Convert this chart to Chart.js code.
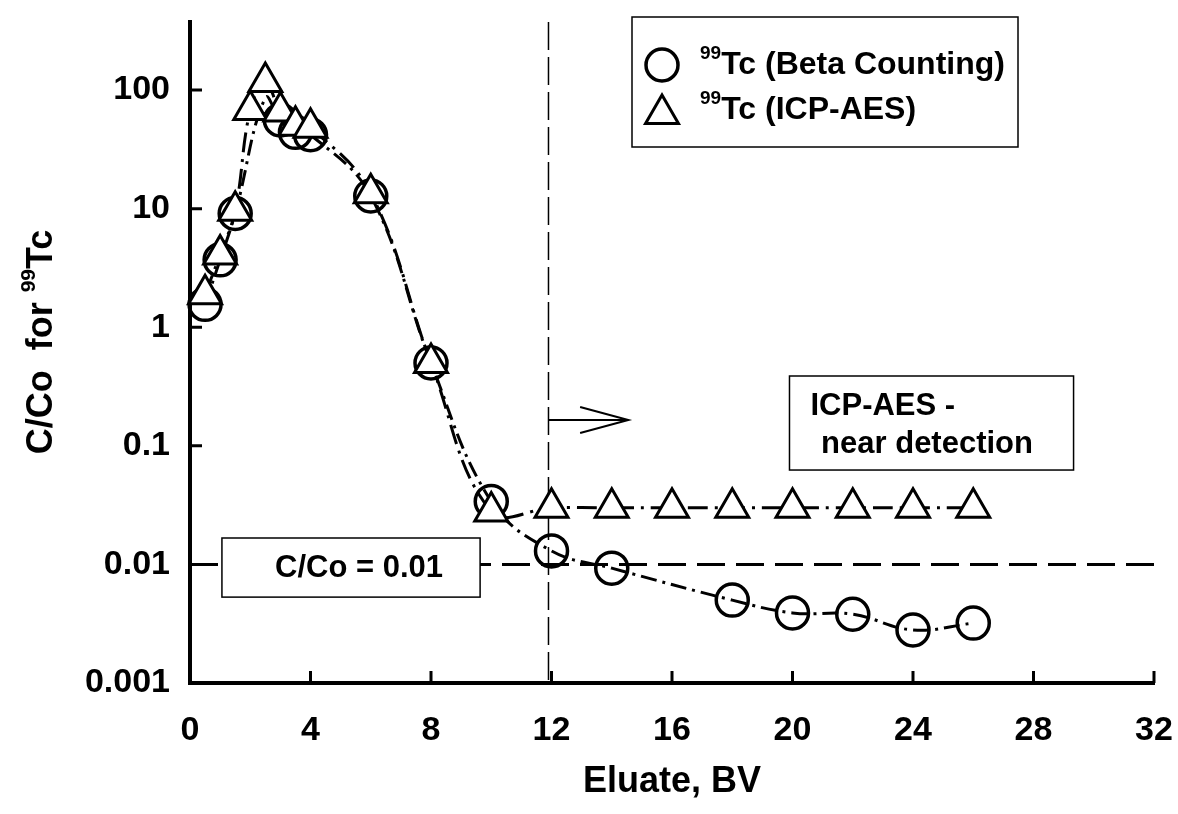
<!DOCTYPE html>
<html>
<head>
<meta charset="utf-8">
<script src="https://cdn.jsdelivr.net/npm/chart.js@4/dist/chart.umd.min.js"></script>
<style>
  body { margin: 0; background: #fff; }
  canvas { display: block; }
</style>
</head>
<body>
<canvas id="myChart" width="1178" height="814"></canvas>
<script>
// eluate volume (BV) and C/Co
let betaX = [0.5, 1, 1.5, 2.5, 3, 3.5, 4, 6, 8, 10, 12, 14, 18, 20, 22, 24, 26];
let betaY = [1.56, 3.7, 9.1, 86, 56, 44, 42, 12.8, 0.50, 0.034, 0.013, 0.0093, 0.0050, 0.0039, 0.0038, 0.0028, 0.0032];

let icpX = [0.5, 1, 1.5, 2, 2.5, 3, 3.5, 4, 6, 8, 10, 12, 14, 16, 18, 20, 22, 24, 26];
let icpY = [1.9, 4.1, 9.6, 68, 117, 66, 50, 48, 13.5, 0.5, 0.028, 0.030, 0.030, 0.030, 0.030, 0.030, 0.030, 0.030, 0.030];

let xTicks = [0, 4, 8, 12, 16, 20, 24, 28, 32];
let yTicks = [0.001, 0.01, 0.1, 1, 10, 100];
let yTickLabels = ['0.001', '0.01', '0.1', '1', '10', '100'];

let limitValue = 0.01;   // C/Co = 0.01 line
let breakBV = 11.9;      // vertical marker

const FONT = "'Liberation Sans', Arial, sans-serif";
const bold = (px) => 'bold ' + px + 'px ' + FONT;

const toPoints = (xs, ys) => xs.map((x, i) => ({x: x, y: ys[i]}));

function partsWidth(ctx, parts) {
    let w = 0;
    for (const p of parts) { ctx.font = bold(p[1]); w += ctx.measureText(p[0]).width; }
    return w;
}

function drawParts(ctx, x, y, parts) {
    let cx = x;
    for (const p of parts) {
        ctx.font = bold(p[1]);
        ctx.fillText(p[0], cx, y - p[2]);
        cx += ctx.measureText(p[0]).width;
    }
}

const extras = {
    id: 'extras',
    beforeDatasetsDraw(chart) {
        const ctx = chart.ctx;
        const xs = chart.scales.x, ys = chart.scales.y;
        const area = chart.chartArea;
        ctx.save();
        ctx.strokeStyle = '#000';

        // horizontal C/Co = 0.01 line
        const yl = ys.getPixelForValue(limitValue);
        ctx.lineWidth = 3;
        ctx.setLineDash([28, 11]);
        ctx.beginPath();
        ctx.moveTo(area.left, yl);
        ctx.lineTo(area.right + 6, yl);
        ctx.stroke();

        // vertical line
        const xv = xs.getPixelForValue(breakBV);
        ctx.lineWidth = 1.5;
        ctx.setLineDash([28, 7]);
        ctx.beginPath();
        ctx.moveTo(xv, area.top);
        ctx.lineTo(xv, area.bottom);
        ctx.stroke();
        ctx.setLineDash([]);

        // arrow
        const ya = ys.getPixelForValue(0.165);
        const xe = xs.getPixelForValue(14.55);
        const xh = xs.getPixelForValue(12.95);
        ctx.lineWidth = 2;
        ctx.beginPath();
        ctx.moveTo(xv, ya);
        ctx.lineTo(xe, ya);
        ctx.moveTo(xh, ya - 13);
        ctx.lineTo(xe, ya);
        ctx.lineTo(xh, ya + 13);
        ctx.stroke();

        // boxes
        ctx.lineWidth = 1.5;
        ctx.fillStyle = '#fff';
        const bx1 = xs.getPixelForValue(1.06), bx2 = xs.getPixelForValue(9.63);
        const by1 = ys.getPixelForValue(0.0167), by2 = ys.getPixelForValue(0.0053);
        ctx.fillRect(bx1, by1, bx2 - bx1, by2 - by1);
        ctx.strokeRect(bx1, by1, bx2 - bx1, by2 - by1);

        const cx1 = xs.getPixelForValue(19.9), cx2 = xs.getPixelForValue(29.33);
        const cy1 = ys.getPixelForValue(0.388), cy2 = ys.getPixelForValue(0.0625);
        ctx.fillRect(cx1, cy1, cx2 - cx1, cy2 - cy1);
        ctx.strokeRect(cx1, cy1, cx2 - cx1, cy2 - cy1);

        ctx.fillStyle = '#000';
        ctx.font = bold(31);
        ctx.textBaseline = 'middle';
        ctx.textAlign = 'center';
        ctx.fillText('C/Co = 0.01', (bx1 + bx2) / 2 + 8, (by1 + by2) / 2 + 1);
        ctx.textAlign = 'left';
        ctx.fillText('ICP-AES -', cx1 + 21, cy1 + 30);
        ctx.fillText(' near detection', cx1 + 23, cy1 + 68);
        ctx.restore();
    },
    afterDraw(chart) {
        const ctx = chart.ctx;
        const xs = chart.scales.x, ys = chart.scales.y;
        const area = chart.chartArea;
        ctx.save();
        ctx.strokeStyle = '#000';
        ctx.fillStyle = '#000';

        // inward tick marks
        ctx.lineWidth = 3;
        ctx.beginPath();
        for (const t of xTicks) {
            if (t === 0) continue;
            const px = xs.getPixelForValue(t);
            ctx.moveTo(px, area.bottom);
            ctx.lineTo(px, area.bottom - 12);
        }
        for (const t of yTicks) {
            if (t === yTicks[0]) continue;
            const py = ys.getPixelForValue(t);
            ctx.moveTo(area.left, py);
            ctx.lineTo(area.left + 12, py);
        }
        ctx.stroke();

        // axis titles
        ctx.textBaseline = 'middle';
        ctx.textAlign = 'center';
        ctx.font = bold(36);
        ctx.fillText('Eluate, BV', (area.left + area.right) / 2, 782);

        const yParts = [['C/Co  for ', 36, 0], ['99', 21, 13], ['Tc', 36, 0]];
        const w = partsWidth(ctx, yParts);
        ctx.save();
        ctx.translate(42, 342);
        ctx.rotate(-Math.PI / 2);
        ctx.textAlign = 'left';
        drawParts(ctx, -w / 2, 0, yParts);
        ctx.restore();

        // legend
        const lx1 = 632, lx2 = 1018, ly1 = 17, ly2 = 147;
        ctx.fillStyle = '#fff';
        ctx.fillRect(lx1, ly1, lx2 - lx1, ly2 - ly1);
        ctx.lineWidth = 1.5;
        ctx.strokeRect(lx1, ly1, lx2 - lx1, ly2 - ly1);
        ctx.fillStyle = '#000';
        const rows = [65, 110];
        chart.data.datasets.forEach((ds, i) => {
            const ry = rows[i];
            ctx.lineWidth = ds.pointBorderWidth;
            ctx.strokeStyle = '#000';
            ctx.fillStyle = ds.pointBackgroundColor;
            Chart.helpers.drawPoint(ctx, {pointStyle: ds.pointStyle, radius: ds.pointRadius, borderWidth: ds.pointBorderWidth}, 662, ds.pointStyle === 'triangle' ? ry + 4 : ry);
            ctx.fillStyle = '#000';
            ctx.textAlign = 'left';
            drawParts(ctx, 700, ry, [['99', 19, 11], ['Tc ' + ds.label, 32, 0]]);
        });
        ctx.restore();
    }
};

new Chart(document.getElementById('myChart'), {
    type: 'line',
    data: {
        datasets: [{
            label: '(Beta Counting)',
            data: toPoints(betaX, betaY),
            borderColor: '#000',
            borderWidth: 3,
            borderDash: [16, 6, 3, 6],
            tension: 0.4,
            pointStyle: 'circle',
            pointRadius: 16,
            pointBorderWidth: 3.5,
            pointBorderColor: '#000',
            pointBackgroundColor: 'rgba(0,0,0,0)',
            clip: false,
            order: 1
        }, {
            label: '(ICP-AES)',
            data: toPoints(icpX, icpY),
            borderColor: '#000',
            borderWidth: 3,
            borderDash: [20, 7, 3, 7],
            tension: 0.4,
            pointStyle: 'triangle',
            pointRadius: 19,
            pointBorderWidth: 3,
            pointBorderColor: '#000',
            pointBackgroundColor: '#fff',
            clip: false,
            order: 0
        }]
    },
    options: {
        responsive: false,
        animation: false,
        layout: { padding: { left: 0, right: 24, top: 22, bottom: 0 } },
        plugins: { legend: { display: false }, tooltip: { enabled: false } },
        scales: {
            x: {
                type: 'linear',
                min: 0,
                max: 32,
                afterFit: (s) => { s.height = 131; s.paddingLeft = 0; s.paddingRight = 0; },
                afterBuildTicks: (s) => { s.ticks = xTicks.map(v => ({value: v})); },
                ticks: { color: '#000', font: { family: FONT, size: 34, weight: 'bold' }, padding: 27, maxRotation: 0 },
                grid: { drawOnChartArea: false, drawTicks: false },
                border: { color: '#000', width: 4 }
            },
            y: {
                type: 'logarithmic',
                min: 0.001,
                max: 375,
                afterFit: (s) => { s.width = 190; s.paddingTop = 0; s.paddingBottom = 0; },
                afterBuildTicks: (s) => { s.ticks = yTicks.map(v => ({value: v})); },
                ticks: {
                    color: '#000',
                    font: { family: FONT, size: 34, weight: 'bold' },
                    padding: 20,
                    callback: (v) => yTickLabels[yTicks.indexOf(v)]
                },
                grid: { drawOnChartArea: false, drawTicks: false },
                border: { color: '#000', width: 4 }
            }
        }
    },
    plugins: [extras]
});
</script>
</body>
</html>
